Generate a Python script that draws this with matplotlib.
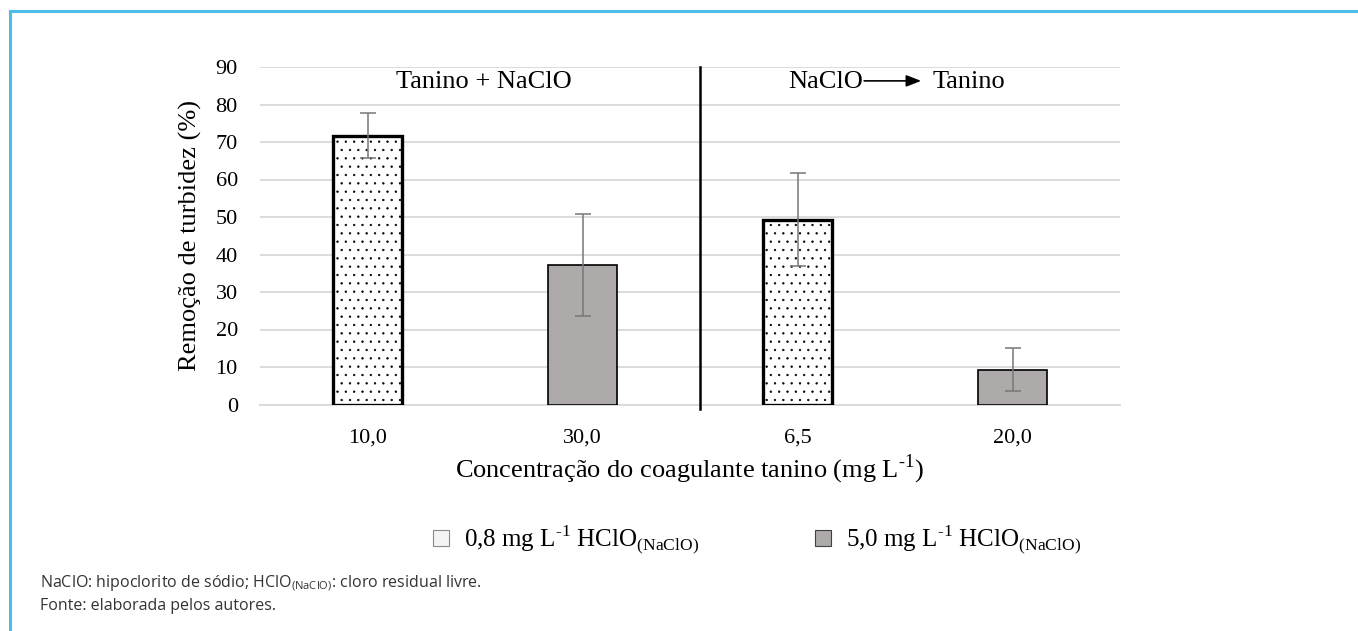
import matplotlib
matplotlib.use("Agg")
import matplotlib.pyplot as plt
from matplotlib.patches import Patch
from matplotlib.lines import Line2D
import numpy as np

plt.rcParams['font.family'] = ['Liberation Serif', 'DejaVu Serif']
plt.rcParams['mathtext.fontset'] = 'custom'
plt.rcParams['mathtext.rm'] = 'Liberation Serif'
plt.rcParams['mathtext.sf'] = 'Open Sans'
plt.rcParams['hatch.linewidth'] = 0.45
plt.rcParams['hatch.color'] = '#222222'

# data
categorias = ['10,0', '30,0', '6,5', '20,0']
serie_08 = [71.7, 0, 49.3, 0]        # 0,8 mg/L HClO
erro_08 = [6.0, 0, 12.4, 0]
serie_50 = [0, 37.2, 0, 9.3]         # 5,0 mg/L HClO
erro_50 = [0, 13.6, 0, 5.7]
grupos = ['Tanino + NaClO', 'NaClO', 'Tanino']

W, H = 1358, 631
fig = plt.figure(figsize=(W / 100, H / 100), dpi=100)
ax = fig.add_axes([260 / W, 1 - 404.5 / H, 860 / W, 337.5 / H])

x = np.arange(len(categorias))
larg = 0.325
cinza = '#AEAAAA'

ax.bar(x, serie_08, width=larg, color='white', edgecolor='black', linewidth=2.4,
       hatch='..', zorder=3)
ax.bar(x, serie_50, width=larg, color=cinza, edgecolor='black', linewidth=1.2, zorder=3)

for vals, errs in [(serie_08, erro_08), (serie_50, erro_50)]:
    v = np.array(vals); e = np.array(errs)
    m = v > 0
    ax.errorbar(x[m], v[m], yerr=e[m], fmt='none', ecolor='#777777', elinewidth=1.1,
                capsize=6, capthick=1.1, zorder=4)

ax.set_xlim(-0.5, len(categorias) - 0.5)
ax.set_ylim(0, 90)
ax.set_yticks(np.arange(0, 91, 10))
ax.set_xticks(x)
ax.set_xticklabels(categorias)
ax.tick_params(axis='both', length=0, labelsize=16)
ax.tick_params(axis='x', pad=17)
ax.tick_params(axis='y', pad=16)
ax.grid(axis='y', color='#D9D9D9', linewidth=1.3, zorder=0)
ax.set_axisbelow(True)
for s in ['top', 'right', 'left']:
    ax.spines[s].set_visible(False)
ax.spines['bottom'].set_color('#D9D9D9')
ax.spines['bottom'].set_linewidth(1.3)

# divisor vertical entre os dois ensaios
ax.plot([1.547, 1.547], [-1.2, 90], color='black', linewidth=1.8, clip_on=False, zorder=5)

ax.text(0.542, 86, grupos[0], ha='center', va='center', fontsize=19)
ax.text(1.956, 86, grupos[1], ha='left', va='center', fontsize=19)
ax.text(2.63, 86, grupos[2], ha='left', va='center', fontsize=19)
ax.annotate('', xy=(2.575, 86.3), xytext=(2.31, 86.3),
            arrowprops=dict(arrowstyle='-|>,head_length=0.9,head_width=0.35',
                            color='black', lw=1.2, shrinkA=0, shrinkB=0))

ax.set_ylabel('Remoção de turbidez (%)', fontsize=19, labelpad=10)
ax.set_xlabel(r'Concentração do coagulante tanino (mg L$^{\text{-1}}$)', fontsize=19, labelpad=4)

handles = [Patch(facecolor='#F4F4F4', edgecolor='#8A8A8A', linewidth=0.8),
           Patch(facecolor=cinza, edgecolor='#404040', linewidth=0.8)]
labels = [r'0,8 mg L$^{\text{-1}}$ HClO$_{\text{(NaClO)}}$',
          r'5,0 mg L$^{\text{-1}}$ HClO$_{\text{(NaClO)}}$']
fig.legend(handles, labels, loc='center', bbox_to_anchor=(757 / W, 1 - 540 / H), ncol=2,
           frameon=False, fontsize=18, handlelength=0.65, handleheight=0.65,
           handletextpad=0.6, columnspacing=4.6)

# nota de rodape
fig.text(40 / W, 1 - 583 / H,
         r'NaClO: hipoclorito de sódio; HClO$_{\mathsf{(NaClO)}}$: cloro residual livre.',
         family='Open Sans', fontsize=11.5, color='#333333', va='center')
fig.text(40 / W, 1 - 606 / H, 'Fonte: elaborada pelos autores.',
         family='Open Sans', fontsize=11.5, color='#333333', va='center')

# moldura azul
azul = '#4DBCE6'
fig.add_artist(Line2D([10 / W, 1], [1 - 11 / H, 1 - 11 / H], color=azul, linewidth=2.2,
                      transform=fig.transFigure))
fig.add_artist(Line2D([10 / W, 10 / W], [1 - 11 / H, 0], color=azul, linewidth=2.2,
                      transform=fig.transFigure))

fig.savefig('out.png', dpi=100)
